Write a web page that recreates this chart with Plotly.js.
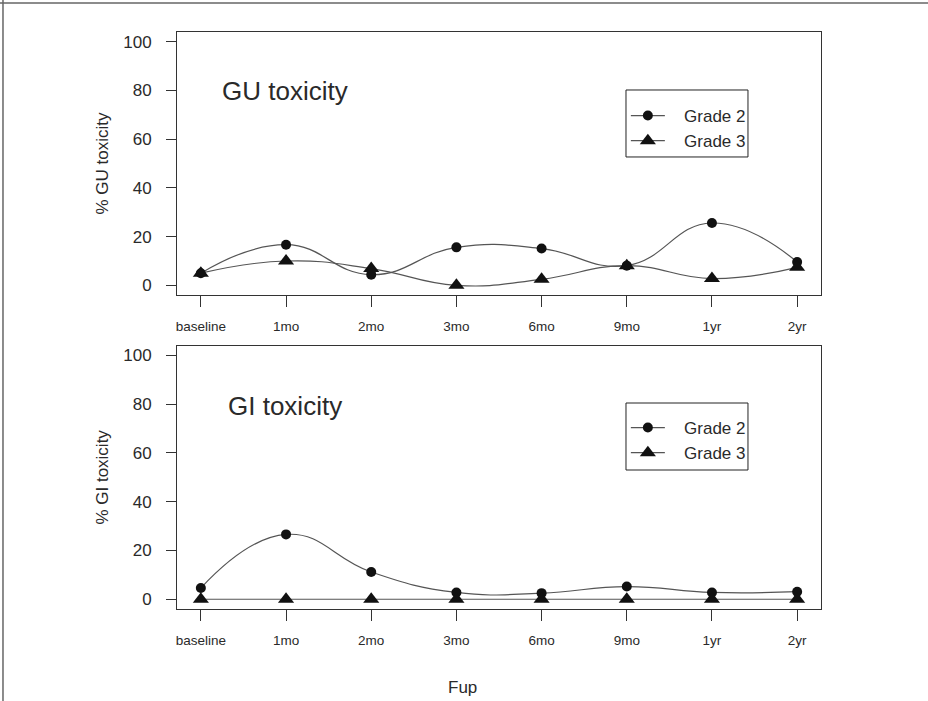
<!DOCTYPE html>
<html>
<head>
<meta charset="utf-8">
<script src="https://cdn.plot.ly/plotly-3.0.1.min.js"></script>
<style>html,body{margin:0;padding:0;background:#fff;}#chart{width:928px;height:701px;}</style>
</head>
<body>
<div id="chart"></div>
<script>
// ---- data ----
const categories = ['baseline', '1mo', '2mo', '3mo', '6mo', '9mo', '1yr', '2yr'];
const guGrade2 = [5, 16.7, 4.4, 15.6, 15.1, 8.1, 25.6, 9.6];
const guGrade3 = [5, 10, 6.9, 0, 2.5, 8.1, 2.8, 7.4];
const giGrade2 = [4.6, 26.6, 11.2, 2.8, 2.5, 5.2, 2.8, 3.1];
const giGrade3 = [0, 0, 0, 0, 0, 0, 0, 0];
const yTicks = [0, 20, 40, 60, 80, 100];
const seriesNames = ['Grade 2', 'Grade 3'];

const xIdx = categories.map((c, i) => i);
const font = 'Liberation Sans, Arial, Helvetica, sans-serif';
const lineCol = '#555';
const axCol = '#333';
const txtCol = '#2a2a2a';
const pad = '\u00a0\u00a0\u00a0';

function trace(y, name, symbol, size, xa, ya, leg) {
  return {
    x: xIdx, y: y, name: pad + name, type: 'scatter', mode: 'lines+markers',
    xaxis: xa, yaxis: ya, legend: leg,
    line: {color: lineCol, width: 1.2, shape: 'spline', smoothing: 1.3},
    marker: {symbol: symbol, size: size, color: '#111'},
    hoverinfo: 'skip'
  };
}

const data = [
  trace(guGrade2, seriesNames[0], 'circle', 10, 'x', 'y', 'legend'),
  trace(guGrade3, seriesNames[1], 'triangle-up', 14, 'x', 'y', 'legend'),
  trace(giGrade2, seriesNames[0], 'circle', 10, 'x2', 'y2', 'legend2'),
  trace(giGrade3, seriesNames[1], 'triangle-up', 14, 'x2', 'y2', 'legend2')
];

function xaxis(anchor) {
  return {
    anchor: anchor, domain: [0, 1], range: [-0.28, 7.28],
    tickmode: 'array', tickvals: xIdx, ticktext: categories,
    ticks: 'outside', ticklen: 11, tickcolor: axCol, tickwidth: 1,
    ticklabelstandoff: 8,
    showline: true, linecolor: axCol, linewidth: 1, mirror: true,
    showgrid: false, zeroline: false,
    tickfont: {family: font, size: 13.5, color: txtCol}
  };
}
function yaxis(anchor, domain, title) {
  return {
    anchor: anchor, domain: domain, range: [-4, 104],
    tickmode: 'array', tickvals: yTicks,
    ticks: 'outside', ticklen: 10, tickcolor: axCol, tickwidth: 1,
    ticklabelstandoff: 11,
    showline: true, linecolor: axCol, linewidth: 1, mirror: true,
    showgrid: false, zeroline: false,
    tickfont: {family: font, size: 17, color: txtCol},
    title: {text: title, font: {family: font, size: 17, color: txtCol}, standoff: 10}
  };
}
function legend(y) {
  return {
    x: 0.697, y: y, xanchor: 'left', yanchor: 'top',
    borderwidth: 0, bgcolor: 'rgba(0,0,0,0)',
    font: {family: font, size: 17, color: txtCol},
    itemwidth: 34, tracegroupgap: 0
  };
}
function legendBox(y0, y1) {
  return {type: 'rect', xref: 'paper', yref: 'paper', x0: 0.6972, x1: 0.8866, y0: y0, y1: y1,
          line: {color: '#222', width: 1}, fillcolor: 'rgba(0,0,0,0)'};
}

const layout = {
  width: 928, height: 701,
  margin: {l: 177, r: 107, t: 32, b: 92},
  paper_bgcolor: '#fff', plot_bgcolor: '#fff',
  showlegend: true,
  xaxis: xaxis('y'),
  yaxis: yaxis('x', [0.544, 1], '% GU toxicity'),
  xaxis2: xaxis('y2'),
  yaxis2: yaxis('x2', [0, 0.4563], '% GI toxicity'),
  legend: legend(0.8856),
  legend2: legend(0.3449),
  annotations: [
    {text: 'GU toxicity', xref: 'paper', yref: 'paper', x: 0.0668, y: 0.8977,
     xanchor: 'left', yanchor: 'middle', showarrow: false,
     font: {family: font, size: 26, color: txtCol}},
    {text: 'GI toxicity', xref: 'paper', yref: 'paper', x: 0.0761, y: 0.3518,
     xanchor: 'left', yanchor: 'middle', showarrow: false,
     font: {family: font, size: 26, color: txtCol}},
    {text: 'Fup', xref: 'paper', yref: 'paper', x: 0.444, y: -0.1369,
     xanchor: 'center', yanchor: 'middle', showarrow: false,
     font: {family: font, size: 17, color: txtCol}}
  ],
  shapes: [
    legendBox(0.7834, 0.8995),
    legendBox(0.2409, 0.357),
    {type: 'line', xref: 'paper', yref: 'paper', x0: -0.2702, x1: -0.2702, y0: -0.2, y1: 1.06,
     line: {color: '#666', width: 1.5}},
    {type: 'line', xref: 'paper', yref: 'paper', x0: -0.28, x1: 1.2, y0: 1.0503, y1: 1.0503,
     line: {color: '#666', width: 1.5}}
  ]
};

Plotly.newPlot('chart', data, layout, {displayModeBar: false, staticPlot: true});
</script>
</body>
</html>
